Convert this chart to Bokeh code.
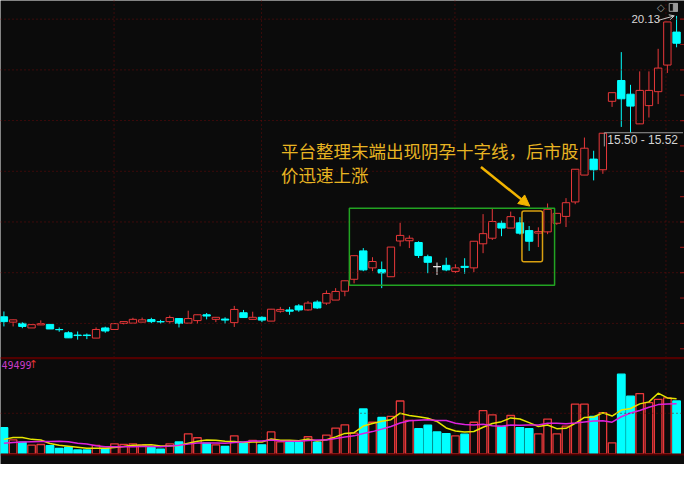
import numpy as np
import pandas as pd
from bokeh.plotting import figure
from bokeh.models import (Range1d, Span, Arrow, NormalHead, OpenHead, Label,
                          BoxAnnotation, ColumnDataSource)
from bokeh.embed import file_html
from bokeh.resources import INLINE

# ---------------- data ----------------
opens = [8.26, 8.05, 8.00, 7.82, 7.94, 7.96, 7.76, 7.63, 7.54, 7.54,
         7.42, 7.82, 7.76, 8.00, 8.01, 8.05, 8.15, 8.07, 8.07, 8.19,
         8.01, 8.11, 8.34, 8.16, 8.17, 8.03, 8.42, 8.16, 8.24, 8.09,
         8.48, 8.53, 8.69, 8.53, 8.84, 8.80, 8.92, 9.27, 9.74, 10.86,
         10.19, 10.12, 9.84, 11.25, 11.26, 11.19, 10.63, 10.24, 10.29, 10.05,
         10.25, 10.19, 11.14, 11.36, 11.95, 11.76, 11.97, 11.66, 11.56, 11.61,
         11.95, 12.22, 12.79, 13.85, 14.48, 14.06, 16.76, 17.58, 17.04, 15.87,
         16.59, 17.14, 18.19, 19.49]
closes = [8.07, 8.14, 7.88, 7.95, 7.99, 7.78, 7.75, 7.43, 7.52, 7.52,
          7.76, 7.70, 7.99, 8.07, 8.16, 8.14, 8.07, 8.06, 8.23, 8.00,
          8.19, 8.34, 8.29, 8.24, 8.13, 8.55, 8.23, 8.24, 8.13, 8.56,
          8.55, 8.48, 8.53, 8.80, 8.61, 9.18, 9.26, 9.68, 10.67, 10.11,
          10.44, 9.99, 11.01, 11.47, 11.36, 10.68, 10.41, 10.24, 10.11, 10.19,
          10.21, 11.24, 11.54, 12.02, 11.76, 12.21, 11.56, 11.24, 11.62, 12.50,
          12.34, 12.76, 14.08, 14.91, 14.06, 15.50, 17.10, 16.86, 16.57, 17.19,
          17.19, 18.07, 19.89, 19.05]
highs = [8.47, 8.15, 8.04, 7.95, 8.12, 7.96, 7.84, 7.69, 7.68, 7.60,
         7.84, 7.87, 7.99, 8.08, 8.22, 8.23, 8.22, 8.14, 8.31, 8.19,
         8.50, 8.34, 8.41, 8.24, 8.24, 8.69, 8.53, 8.46, 8.28, 8.57,
         8.65, 8.65, 8.76, 8.88, 8.91, 9.30, 9.39, 9.68, 10.67, 10.97,
         10.61, 10.44, 11.01, 11.97, 11.47, 11.24, 10.71, 10.40, 10.59, 10.33,
         10.57, 11.24, 12.31, 12.53, 12.05, 12.41, 12.19, 11.84, 11.79, 12.73,
         12.35, 12.94, 14.08, 15.33, 14.81, 15.50, 17.10, 18.70, 17.41, 17.94,
         17.94, 18.83, 19.89, 20.13]
lows = [7.88, 7.88, 7.81, 7.82, 7.94, 7.78, 7.67, 7.43, 7.36, 7.38,
        7.42, 7.63, 7.76, 7.96, 8.01, 8.05, 8.01, 7.99, 7.99, 7.84,
        8.01, 7.99, 8.16, 8.05, 7.99, 7.86, 8.23, 8.16, 8.05, 8.09,
        8.42, 8.34, 8.46, 8.50, 8.57, 8.73, 8.92, 9.07, 9.58, 10.06,
        10.06, 9.39, 9.84, 11.04, 10.97, 10.58, 9.98, 9.91, 10.06, 9.99,
        9.96, 10.02, 10.77, 11.29, 11.44, 11.76, 11.50, 10.86, 11.01, 11.52,
        11.89, 11.80, 12.70, 13.85, 13.64, 13.90, 16.54, 15.75, 15.52, 15.87,
        16.12, 16.65, 17.88, 18.89]
volumes = [14310, 7630, 6360, 4770, 5140, 4450, 3020, 3710, 2120, 2120,
           4610, 3020, 5510, 5140, 5510, 4980, 3550, 2650, 5510, 6570,
           10970, 8850, 5830, 4980, 4080, 9910, 6360, 7420, 4980, 12030,
           6570, 6360, 6360, 9380, 6360, 10280, 14150, 15900, 11340, 24590,
           17330, 19980, 20510, 28990, 18390, 13780, 15740, 12030, 11130, 9910,
           10810, 17330, 23690, 21410, 15050, 21040, 14310, 13780, 10970, 19080,
           10970, 15210, 27240, 27240, 20510, 22630, 6040, 43670, 31640, 33070,
           28090, 29890, 30740, 28990]
# volumes of the days just before the visible window (estimated from the MA lines)
volume_before = [3500, 4000, 3200, 3900, 3950, 2330, 6360, 10070, 6680]

price_grid = [8, 10, 12, 14, 16, 18, 20]
price_ticks = [7, 8, 9, 10, 11, 12, 13, 14, 15, 16, 17, 18, 19, 20]
volume_grid = [22260]
month_lines = [11.95, 27.95, 48.95, 71.85]

note_line1 = "平台整理末端出现阴孕十字线，后市股"
note_line2 = "价迅速上涨"
gap_label = "15.50 - 15.52"
gap_price = 15.52
high_label = "20.13"
vol_label = "49499"

# ---------------- styling ----------------
BG = "#0b0b0b"
RED = "#e8383a"
CYAN = "#00ffff"
WHITE = "#e6e6e6"
GRID = "#6e0c0c"
SEP = "#520000"
GOLD = "#e8b422"

n = len(closes)
idx = np.arange(n)
o = np.array(opens); c = np.array(closes); h = np.array(highs); l = np.array(lows)
up = c > o
down = c < o
flat = c == o
candle_color = [RED if u else (CYAN if d else WHITE) for u, d in zip(up, down)]
body_fill = [BG if u else (CYAN if d else WHITE) for u, d in zip(up, down)]
vol_line = [RED if u else CYAN for u in up]
vol_fill = [BG if u else CYAN for u in up]

full = pd.Series(volume_before + volumes, dtype=float)
ma5 = full.rolling(5).mean().to_numpy()[len(volume_before):]
ma10 = full.rolling(10).mean().to_numpy()[len(volume_before):]

src = ColumnDataSource(dict(x=idx, o=o, c=c, h=h, l=l,
                            top=np.maximum(o, c), bottom=np.minimum(o, c),
                            color=candle_color, fill=body_fill,
                            vol=volumes, vline=vol_line, vfill=vol_fill,
                            ma5=ma5, ma10=ma10))

p = figure(width=684, height=464, output_backend="svg", toolbar_location=None,
           x_range=Range1d(-0.371, 73.86), y_range=Range1d(2.434, 20.736),
           x_axis_location=None, y_axis_location=None, min_border=0,
           background_fill_color=BG, border_fill_color=BG, outline_line_color=None)
p.xgrid.visible = False
p.ygrid.visible = False
p.extra_y_ranges = {"vol": Range1d(-5830, 248570)}

# grid
for lvl in price_grid:
    p.add_layout(Span(location=lvl, dimension="width", line_color=GRID,
                      line_dash="1 3", line_width=1))
for lvl in volume_grid:
    p.add_layout(Span(location=lvl, dimension="width", line_color=GRID,
                      line_dash="1 3", line_width=1, y_range_name="vol"))
p.segment(x0=month_lines, y0=[20.736] * len(month_lines), x1=month_lines,
          y1=[2.85] * len(month_lines), line_color=GRID, line_dash="1 3", line_width=1)
p.segment(x0=[73.38] * len(price_ticks), y0=price_ticks, x1=[73.9] * len(price_ticks),
          y1=price_ticks, line_color="#8a1616", line_width=1.2)

# panel separators
p.add_layout(Span(location=6.628, dimension="width", line_color=SEP, line_width=2.2))
p.add_layout(Span(location=-300, dimension="width", line_color=SEP, line_width=2,
                  y_range_name="vol"))

# candles
p.segment(x0="x", y0="h", x1="x", y1="l", line_color="color", line_width=1, source=src)
p.vbar(x="x", width=0.8, top="top", bottom="bottom", fill_color="fill",
       line_color="color", line_width=1, source=src)
fx = idx[flat]
p.segment(x0=fx - 0.4, y0=c[flat], x1=fx + 0.4, y1=c[flat], line_color=WHITE, line_width=1.2)

# volume
p.vbar(x="x", width=0.82, top="vol", bottom=0, fill_color="vfill", line_color="vline",
       line_width=1.3, source=src, y_range_name="vol")
p.line("x", "ma5", source=src, line_color="#e6e600", line_width=1.5, y_range_name="vol")
p.line("x", "ma10", source=src, line_color="#dd22dd", line_width=1.5, y_range_name="vol")

# annotations
p.add_layout(BoxAnnotation(left=37.49, right=59.76, bottom=9.507, top=12.538,
                           fill_alpha=0, line_color="#22a322", line_alpha=1,
                           line_width=1.5))
p.add_layout(BoxAnnotation(left=56.22, right=58.45, bottom=10.429, top=12.435,
                           fill_alpha=0, line_color="#d9a010", line_alpha=1,
                           line_width=1.5, border_radius=2))
p.add_layout(Arrow(end=NormalHead(size=11, fill_color="#f2b400", line_color="#f2b400"),
                   x_start=51.77, y_start=14.166, x_end=57.07, y_end=12.626,
                   line_color="#f2b400", line_width=2.5))
p.add_layout(Label(x=30.06, y=14.807, text=note_line1, text_font="Noto Sans CJK SC",
                   text_font_size="17.5px", text_color=GOLD, text_baseline="middle"))
p.add_layout(Label(x=30.06, y=13.892, text=note_line2, text_font="Noto Sans CJK SC",
                   text_font_size="17.5px", text_color=GOLD, text_baseline="middle"))

# gap label
p.segment(x0=[65.16], y0=[gap_price], x1=[73.7], y1=[gap_price], line_color="#9a9a9a", line_width=1)
p.segment(x0=[65.16], y0=[gap_price], x1=[65.16], y1=[14.98], line_color="#9a9a9a", line_width=1)
p.add_layout(Label(x=65.48, y=15.245, text=gap_label, text_font="Liberation Sans",
                   text_font_size="12px", text_color="#d4d4d4", text_baseline="middle"))

# high label
p.add_layout(Label(x=68.1, y=20.0, text=high_label, text_font="Liberation Sans",
                   text_font_size="11.5px", text_color="#d8d8d8", text_baseline="middle"))
p.add_layout(Arrow(end=OpenHead(size=5, line_color="#c8c8c8", line_width=1),
                   x_start=71.0, y_start=19.95, x_end=72.75, y_end=20.13,
                   line_color="#c8c8c8", line_width=1))

# top-right icons
p.add_layout(Label(x=71.3, y=20.47, text="◇", text_font="DejaVu Sans", text_font_size="10px",
                   text_color="#9a9a9a", text_baseline="middle", text_align="center"))
p.quad(left=[72.2], right=[73.1], top=[20.62], bottom=[20.31], fill_color=BG,
       line_color="#9a9a9a", line_width=1)
p.quad(left=[72.65], right=[73.1], top=[20.62], bottom=[20.31], fill_color="#9a9a9a",
       line_color="#9a9a9a", line_width=1)

# volume label
p.add_layout(Label(x=-0.27, y=48760, text=vol_label, text_font="DejaVu Sans Mono",
                   text_font_size="10px", text_color="#c83cc8", text_baseline="middle",
                   text_align="left", y_range_name="vol"))
p.add_layout(Label(x=3.2, y=48760, text="↑", text_font="DejaVu Sans",
                   text_font_size="11px", text_color="#e03030", text_baseline="middle",
                   text_align="center", y_range_name="vol"))

open("out.html", "w").write(file_html(p, INLINE))
